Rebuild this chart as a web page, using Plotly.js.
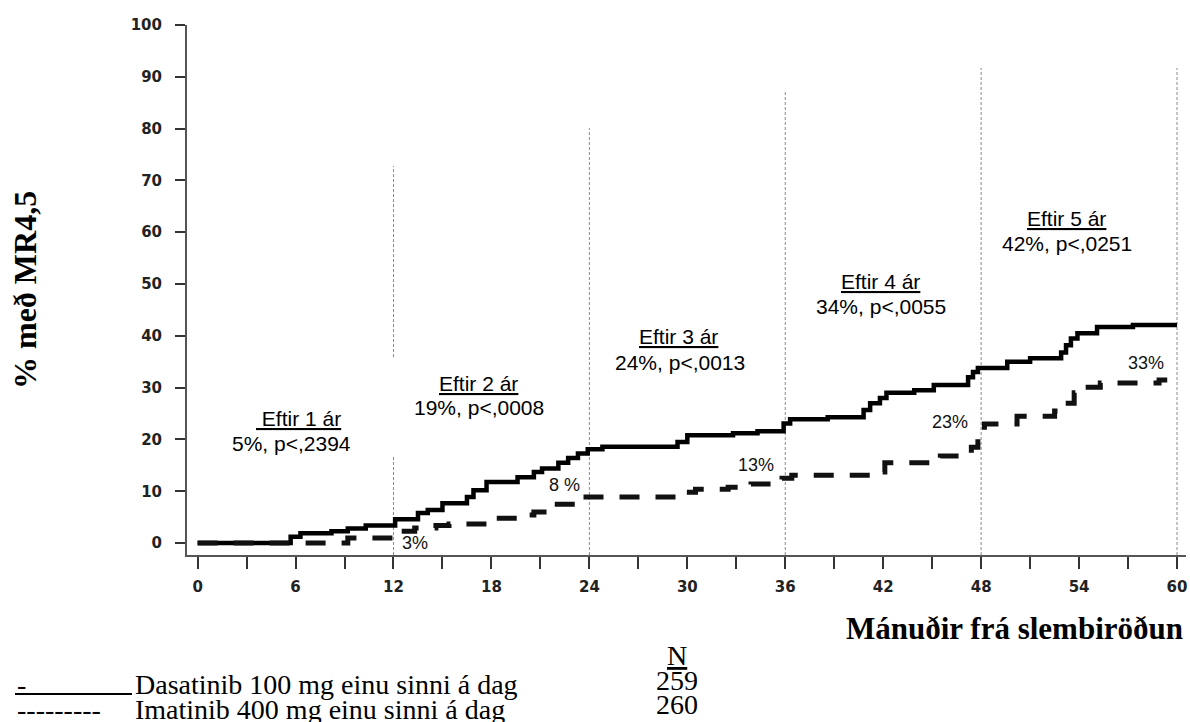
<!DOCTYPE html>
<html>
<head>
<meta charset="utf-8">
<script src="https://cdn.plot.ly/plotly-3.0.1.min.js"></script>
<style>html,body{margin:0;padding:0;background:#fff;}#chart{width:1190px;height:722px;}</style>
</head>
<body>
<div id="chart"></div>
<script>
// ---- data ----
const dasatinibMonths = [0, 5.7, 6.3, 8.2, 9.2, 10.3, 12.1, 13.5, 14.1, 15.0, 16.5, 16.9, 17.7, 19.6, 20.6, 21.1, 22.1, 22.7, 23.3, 23.9, 24.8, 29.4, 30.0, 32.8, 34.3, 35.9, 36.3, 38.6, 40.8, 41.2, 41.8, 42.2, 43.9, 45.1, 47.2, 47.5, 47.8, 49.6, 51.0, 52.9, 53.2, 53.5, 53.9, 55.1, 57.3, 60.0];
const dasatinibPct    = [0, 1.2, 1.9, 2.3, 2.8, 3.4, 4.6, 5.8, 6.4, 7.7, 8.9, 10.2, 11.8, 12.7, 13.7, 14.4, 15.5, 16.4, 17.3, 18.1, 18.6, 19.5, 20.8, 21.2, 21.6, 23.1, 23.9, 24.3, 25.7, 27.0, 28.0, 29.0, 29.5, 30.5, 32.0, 33.0, 33.8, 35.0, 35.7, 36.8, 38.2, 39.5, 40.5, 41.7, 42.1, 42.1];
const imatinibMonths  = [0, 9.2, 12.0, 13.3, 14.6, 15.4, 17.8, 20.1, 20.6, 21.5, 23.5, 29.4, 30.5, 32.5, 33.9, 35.8, 36.4, 41.7, 42.1, 45.5, 47.4, 47.8, 48.2, 50.2, 52.5, 53.0, 53.7, 54.3, 55.3, 58.9, 59.4];
const imatinibPct     = [0, 1.0, 2.3, 2.9, 3.4, 3.7, 4.8, 5.4, 6.0, 7.5, 8.9, 9.8, 10.4, 10.8, 11.4, 12.5, 13.1, 13.7, 15.5, 16.8, 18.5, 20.8, 23.0, 24.5, 25.5, 27.0, 29.0, 30.1, 30.9, 31.5, 31.5];

const xTickVals = [0,3,6,9,12,15,18,21,24,27,30,33,36,39,42,45,48,51,54,57,60];
const xTickText = ['0','','6','','12','','18','','24','','30','','36','','42','','48','','54','','60'];
const yTickVals = [0,10,20,30,40,50,60,70,80,90,100];

const yearMonths = [12, 24, 36, 48, 60];
const yearTitles = ['\u00a0Eftir 1 ár', 'Eftir 2 ár', 'Eftir 3 ár', 'Eftir 4 ár', 'Eftir 5 ár'];
const yearStats  = ['5%, p&lt;,2394', '19%, p&lt;,0008', '24%, p&lt;,0013', '34%, p&lt;,0055', '42%, p&lt;,0251'];
const imatinibLabels = ['3%', '8 %', '13%', '23%', '33%'];

const seriesNames = ['Dasatinib 100 mg einu sinni á dag', 'Imatinib 400 mg einu sinni á dag'];
const seriesN = ['259', '260'];
const xTitle = 'Mánuðir frá slembiröðun';
const yTitle = '% með MR4,5';

// ---- layout helpers (positions only) ----
const L = 187, R = 1186, T = 25, B = 555;
const px = v => (v - L) / (R - L);
const py = v => (B - v) / (B - T);
const SANS = 'Liberation Sans, Arial, sans-serif';
const TICK = 'DejaVu Sans, Liberation Sans, sans-serif';
const SERIF = 'Liberation Serif, Times New Roman, serif';

// positions of the text blocks (month, percent)
const titlePos = [[6.2, 24.1], [17.2, 30.9], [29.45, 39.8], [41.85, 50.4], [53.25, 62.7]];
const statPos  = [[5.73, 19.3], [17.25, 26.1], [29.55, 34.9], [41.85, 45.6], [53.25, 57.9]];
const pctPos   = [[13.3, 0.1], [22.5, 11.3], [34.2, 15.1], [46.1, 23.4], [58.1, 34.7]];
// top of each vertical reference line (percent)
const vTop = [72.8, 80.1, 87.1, 91.7, 91.7];

const traces = [
  {x: dasatinibMonths, y: dasatinibPct, type: 'scatter', mode: 'lines', name: seriesNames[0],
   line: {shape: 'hv', color: '#000', width: 4.5}, hoverinfo: 'x+y'},
  {x: imatinibMonths, y: imatinibPct, type: 'scatter', mode: 'lines', name: seriesNames[1],
   line: {shape: 'hv', color: '#111', width: 5, dash: '20px,16px'}, hoverinfo: 'x+y'}
];

const shapes = [];
yearMonths.forEach((m, i) => {
  const base = {type: 'line', xref: 'x', yref: 'y', x0: m, x1: m, layer: 'below',
                line: {color: '#8a8a8a', width: 1, dash: '3px,2px'}};
  if (i === 0) {
    shapes.push(Object.assign({}, base, {y0: 35.9, y1: vTop[i]}));
    shapes.push(Object.assign({}, base, {y0: -2.3, y1: 17.0}));
  } else {
    shapes.push(Object.assign({}, base, {y0: -2.3, y1: vTop[i]}));
  }
});
// legend sample solid line
shapes.push({type: 'line', xref: 'paper', yref: 'paper', x0: px(15), x1: px(132), y0: py(694), y1: py(694),
             line: {color: '#000', width: 2}});

const ann = [];
yearTitles.forEach((t, i) => {
  ann.push({x: titlePos[i][0], y: titlePos[i][1], xref: 'x', yref: 'y', text: '<u>' + t + '</u>',
            showarrow: false, xanchor: 'center', yanchor: 'middle', font: {family: SANS, size: 21, color: '#000'}});
  ann.push({x: statPos[i][0], y: statPos[i][1], xref: 'x', yref: 'y', text: yearStats[i],
            showarrow: false, xanchor: 'center', yanchor: 'middle', font: {family: SANS, size: 21, color: '#000'}});
});
imatinibLabels.forEach((t, i) => {
  ann.push({x: pctPos[i][0], y: pctPos[i][1], xref: 'x', yref: 'y', text: t, showarrow: false,
            xanchor: 'center', yanchor: 'middle', font: {family: SANS, size: 18, color: '#111'}});
});
// axis titles
ann.push({x: px(1185), y: py(628), xref: 'paper', yref: 'paper', text: '<b>' + xTitle + '</b>', showarrow: false,
          xanchor: 'right', yanchor: 'middle', font: {family: SERIF, size: 31, color: '#000'}});
ann.push({x: px(25), y: py(290), xref: 'paper', yref: 'paper', text: '<b>' + yTitle + '</b>', showarrow: false,
          textangle: -90, xanchor: 'center', yanchor: 'middle', font: {family: SERIF, size: 32, color: '#000'}});
// legend table
const legendFont = {family: SERIF, size: 28, color: '#000'};
ann.push({x: px(15), y: py(684), xref: 'paper', yref: 'paper', text: '-', showarrow: false,
          xanchor: 'left', yanchor: 'middle', font: legendFont});
ann.push({x: px(133), y: py(684), xref: 'paper', yref: 'paper', text: seriesNames[0], showarrow: false,
          xanchor: 'left', yanchor: 'middle', font: legendFont});
ann.push({x: px(15), y: py(709), xref: 'paper', yref: 'paper', text: '---------', showarrow: false,
          xanchor: 'left', yanchor: 'middle', font: legendFont});
ann.push({x: px(133), y: py(709), xref: 'paper', yref: 'paper', text: seriesNames[1], showarrow: false,
          xanchor: 'left', yanchor: 'middle', font: legendFont});
ann.push({x: px(677), y: py(655), xref: 'paper', yref: 'paper', text: '<u>N</u>', showarrow: false,
          xanchor: 'center', yanchor: 'middle', font: legendFont});
ann.push({x: px(677), y: py(680), xref: 'paper', yref: 'paper', text: seriesN[0], showarrow: false,
          xanchor: 'center', yanchor: 'middle', font: legendFont});
ann.push({x: px(677), y: py(704), xref: 'paper', yref: 'paper', text: seriesN[1], showarrow: false,
          xanchor: 'center', yanchor: 'middle', font: legendFont});

const layout = {
  width: 1190, height: 722,
  margin: {l: L, r: 1190 - R, t: T, b: 722 - B, pad: 0},
  paper_bgcolor: '#fff', plot_bgcolor: '#fff',
  showlegend: false,
  xaxis: {range: [-0.65, 60.55], tickmode: 'array', tickvals: xTickVals, ticktext: xTickText,
          ticks: 'outside', ticklen: 12, tickwidth: 2, tickcolor: '#333',
          showline: true, linecolor: '#555', linewidth: 2, showgrid: false, zeroline: false,
          ticklabelstandoff: 5, tickfont: {family: TICK, size: 15, color: '#222', weight: 'bold'}},
  yaxis: {range: [-2.3, 100], tickmode: 'array', tickvals: yTickVals,
          ticks: 'outside', ticklen: 10, tickwidth: 2, tickcolor: '#333',
          showline: true, linecolor: '#555', linewidth: 2, showgrid: false, zeroline: false,
          ticklabelstandoff: 10, tickfont: {family: TICK, size: 15, color: '#222', weight: 'bold'}},
  shapes: shapes,
  annotations: ann
};

Plotly.newPlot('chart', traces, layout, {displayModeBar: false, staticPlot: true});
</script>
</body>
</html>
